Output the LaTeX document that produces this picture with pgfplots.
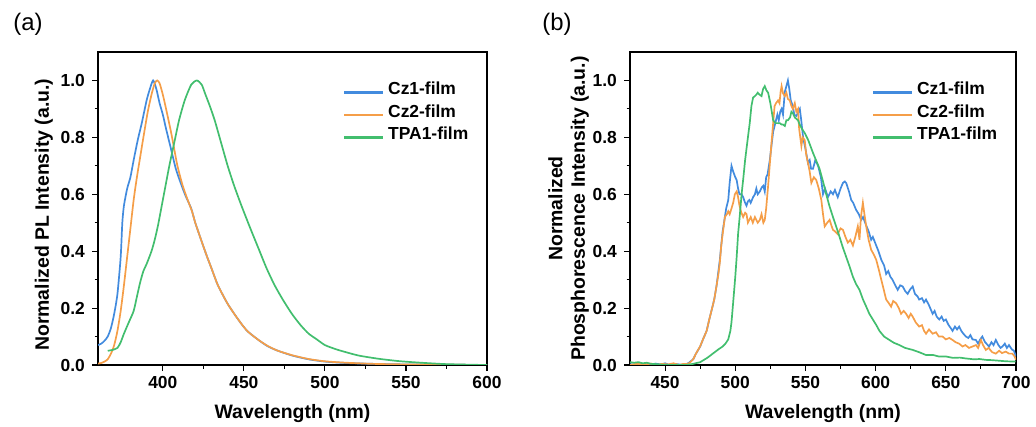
\documentclass[border=0pt]{standalone}
\usepackage{pgfplots}
\pgfplotsset{compat=1.18}
\usepackage{fontspec}
\setmainfont{Liberation Sans}

\definecolor{cblue}{RGB}{66,139,222}
\definecolor{corange}{RGB}{245,158,72}
\definecolor{cgreen}{RGB}{66,190,110}

\pgfplotsset{
  spec/.style={
    scale only axis,
    anchor=south west,
    height=313bp,
    ymin=0, ymax=1.1,
    ytick={0,0.2,...,1.0},
    minor x tick num=1,
    minor y tick num=1,
    xtick pos=bottom, ytick pos=left,
    tick align=outside,
    major tick length=6bp,
    minor tick length=3.5bp,
    every tick/.style={black, line width=1.1bp},
    axis line style={line width=1.3bp, black},
    /pgf/number format/assume math mode=true,
    ticklabel style={font=\bfseries\fontsize{17.5}{18}\selectfont, inner sep=0pt},
    yticklabel style={xshift=-7bp, /pgf/number format/.cd, fixed, fixed zerofill, precision=1},
    xticklabel style={yshift=-5bp, /pgf/number format/.cd, fixed, precision=0},
    label style={font=\bfseries\fontsize{19.5}{22.5}\selectfont, inner sep=0pt},
    legend cell align=left,
    legend style={draw=none, fill=none, inner sep=0pt, outer sep=0pt,
      row sep=0pt, anchor=north west,
      font=\bfseries\fontsize{17.5}{21}\selectfont,
      nodes={inner xsep=4bp, inner ysep=0pt, text height=13bp, text depth=9.5bp}},
    legend image code/.code={\draw[##1, line width=2.1bp] (0bp,0.5bp) -- (39bp,0.5bp);},
    every axis plot/.append style={line width=1.7bp},
  }
}

\begin{document}
\begin{tikzpicture}
\useasboundingbox (0,0) rectangle (1036bp,427bp);

\node[font=\fontsize{24}{26}\selectfont, inner sep=0pt] at (28bp,403bp) {(a)};
\node[font=\fontsize{24}{26}\selectfont, inner sep=0pt] at (557bp,403bp) {(b)};

% (a) PL spectra
\begin{axis}[spec,
  at={(98bp,62bp)}, width=389bp,
  xmin=360, xmax=600,
  xtick={400,450,...,600},
  xlabel={Wavelength (nm)},
  ylabel={Normalized PL Intensity (a.u.)},
  xlabel style={at={(axis description cs:0.5,-0.1725)}, anchor=base},
  ylabel style={at={(axis description cs:-0.1157,0.48)}, anchor=south},
  legend style={at={(axis description cs:0.63,0.905)}},
]
\addplot[cblue, smooth, tension=0.4] coordinates {
(360,0.07) (362,0.075) (364,0.085) (366,0.10) (368,0.13) (370,0.18) (372,0.25)
(374,0.38) (375,0.50) (376,0.56) (378,0.62) (380,0.66) (382,0.72) (384.5,0.79)
(387,0.85) (390,0.93) (392,0.97) (394,1.00) (396,0.97) (398,0.92) (400,0.88)
(402,0.83) (405,0.76) (408,0.69) (411,0.64) (414,0.595) (417.5,0.55) (420,0.50)
(423.6,0.44) (427,0.385) (430,0.34) (434,0.28) (440,0.215) (446.5,0.16) (452,0.12)
(459,0.088) (465,0.065) (471,0.05) (480,0.033) (490,0.02) (500,0.012) (513,0.007)
(530,0.004) (550,0.002) (575,0.001) (600,0.0)};
\addplot[corange, smooth, tension=0.4] coordinates {
(360,0.005) (362,0.007) (364,0.012) (366,0.02) (368,0.04) (370,0.07) (372,0.12)
(374,0.19) (376,0.28) (378,0.38) (380,0.48) (382,0.58) (384,0.66) (386,0.73)
(388,0.80) (390.7,0.89) (393,0.95) (395,0.99) (396.5,1.0) (398,0.99) (400,0.95)
(402,0.90) (405,0.82) (407,0.76) (409,0.70) (412,0.635) (415,0.585) (418,0.54)
(420,0.50) (423.6,0.44) (427,0.385) (430,0.34) (434,0.28) (440,0.215) (446.5,0.16)
(452,0.12) (459,0.088) (465,0.066) (471,0.05) (480,0.034) (490,0.021) (500,0.013)
(513,0.008) (530,0.004) (550,0.002) (575,0.001) (600,0.0)};
\addplot[cgreen, smooth, tension=0.4] coordinates {
(366,0.05) (369,0.053) (372,0.06) (374,0.08) (376,0.11) (379,0.15) (382,0.19)
(384,0.24) (386,0.29) (388,0.33) (390,0.355) (393,0.40) (395,0.44) (397,0.49)
(399,0.55) (401,0.61) (404,0.70) (407,0.78) (410,0.86) (413.5,0.93) (417.5,0.985)
(421,1.0) (424,0.985) (426,0.955) (429,0.91) (432,0.86) (436,0.78) (440,0.70)
(444,0.63) (448.5,0.56) (454,0.48) (459,0.41) (464,0.34) (469,0.28) (474,0.23)
(479.6,0.18) (485,0.14) (490,0.11) (495,0.09) (500,0.07) (507,0.055) (513,0.045)
(521,0.033) (533,0.022) (545,0.014) (554,0.01) (565,0.006) (575,0.003) (590,0.001)
(600,0.0)};
\legend{Cz1-film,Cz2-film,TPA1-film}
\end{axis}

% (b) phosphorescence spectra
\begin{axis}[spec,
  at={(630bp,62bp)}, width=386bp,
  xmin=425, xmax=700,
  xtick={450,500,...,700},
  xlabel={Wavelength (nm)},
  ylabel={Normalized\\Phosphorescence Intensity (a.u.)},
  xlabel style={at={(axis description cs:0.5,-0.1725)}, anchor=base},
  ylabel style={at={(axis description cs:-0.106,0.5)}, anchor=south, align=center},
  legend style={at={(axis description cs:0.627,0.905)}},
]
\addplot[cblue] coordinates {
(425,0.003) (430,0.0) (435,0.004) (440,0.0) (443,0.005) (447,0.002) (450,0.006)
(453,0.0) (457,0.004) (460,0.002) (463,0.0) (465,0.003) (467,0.008) (470,0.02)
(472,0.04) (475,0.065) (477,0.09) (479.6,0.12) (481,0.15) (483,0.19) (485,0.23)
(486.7,0.28) (488,0.33) (489,0.37) (490,0.42) (491,0.47) (492.6,0.52) (493.5,0.55)
(495,0.58) (496,0.64) (497.3,0.70) (498.5,0.68) (500,0.66) (501,0.65) (502,0.62)
(503,0.60) (504.5,0.60) (505.6,0.59) (507,0.57) (508,0.56) (509,0.575) (510,0.58)
(511,0.57) (512.7,0.59) (514,0.60) (515,0.62) (516,0.60) (517.5,0.61) (519,0.625)
(520,0.63) (521,0.61) (522,0.66) (523,0.67) (524.6,0.72) (526,0.78) (527,0.82)
(528,0.84) (529,0.86) (530,0.88) (531,0.86) (532,0.89) (533,0.90) (534,0.88)
(535.3,0.96) (536.4,0.98) (537.5,1.0) (538.5,0.97) (539.5,0.93) (541,0.91)
(542,0.88) (543.5,0.875) (545,0.89) (546,0.90) (547,0.86) (548.3,0.80) (550,0.76)
(551.8,0.71) (553,0.72) (554,0.69) (555.4,0.69) (557,0.72) (559,0.70) (561,0.66)
(562.5,0.60) (564,0.62) (566,0.59) (568,0.61) (569.6,0.60) (571,0.615) (573,0.59)
(575,0.62) (576.7,0.64) (578,0.645) (579,0.64) (581,0.61) (582.6,0.58) (584,0.57)
(586,0.546) (588,0.53) (589.7,0.51) (591,0.52) (593.3,0.49) (595,0.47) (596.8,0.44)
(598,0.45) (600.4,0.42) (602,0.40) (604,0.37) (606,0.35) (607.5,0.32) (609,0.33)
(610.5,0.31) (612,0.30) (614,0.28) (615.7,0.264) (617.5,0.28) (619.3,0.276)
(621,0.26) (622.8,0.25) (624.5,0.265) (626.4,0.276) (628,0.25) (630,0.24)
(631,0.23) (633,0.235) (634.5,0.22) (635.9,0.23) (638,0.21) (640.6,0.18) (642,0.19)
(643.5,0.17) (645.3,0.16) (647,0.17) (648.5,0.155) (650,0.16) (652,0.14)
(653.5,0.13) (654.8,0.12) (656.5,0.135) (658,0.125) (659.5,0.135) (661,0.12)
(662.5,0.11) (664.3,0.10) (666,0.095) (667.5,0.105) (669,0.09) (671.4,0.088)
(673,0.075) (674.5,0.09) (676,0.10) (678,0.08) (680.8,0.065) (682.5,0.08) (684,0.07)
(685.6,0.088) (687.5,0.07) (689,0.06) (690.3,0.065) (692,0.075) (693.5,0.06)
(695,0.07) (697,0.055) (698.5,0.05) (700,0.03)};
\addplot[corange] coordinates {
(425,0.0) (430,0.004) (435,0.001) (440,0.005) (444,0.0) (448,0.004) (452,0.002)
(456,0.006) (460,0.0) (463,0.004) (466,0.003) (468,0.01) (470,0.02) (472,0.04)
(474.9,0.065) (477,0.09) (479.6,0.12) (481,0.15) (483,0.19) (485,0.23) (486.7,0.28)
(488,0.32) (489,0.36) (490,0.42) (491,0.46) (492.6,0.52) (494,0.53) (495,0.54)
(496,0.53) (497.3,0.55) (498.5,0.57) (499.7,0.60) (501,0.61) (502,0.59) (503,0.56)
(504,0.54) (505.6,0.52) (507,0.535) (508,0.53) (509,0.50) (510,0.51) (511,0.52)
(512.5,0.50) (514,0.52) (515,0.51) (516,0.50) (517.5,0.51) (518.7,0.53) (520,0.50)
(521,0.51) (522,0.55) (523.4,0.63) (524.5,0.70) (525.8,0.78) (527,0.85) (528,0.91)
(529,0.92) (530.5,0.93) (531.5,0.92) (532.3,0.96) (533,0.98) (534,0.955)
(535.3,0.945) (536.4,0.957) (537.5,0.935) (538.8,0.93) (540,0.91) (541,0.90)
(542.4,0.92) (543.5,0.89) (544.7,0.90) (545.5,0.83) (547.1,0.77) (548,0.80)
(549.5,0.79) (550.5,0.74) (551.8,0.71) (553,0.68) (554.2,0.64) (556,0.66)
(557.7,0.65) (559.5,0.62) (561.3,0.58) (562.5,0.53) (563.7,0.487) (565.5,0.50)
(567.2,0.51) (568.5,0.49) (569.6,0.475) (571,0.47) (573,0.46) (575,0.48)
(576.7,0.475) (578.5,0.45) (580.2,0.43) (582,0.44) (583.8,0.42) (585.5,0.45)
(587.3,0.487) (588.5,0.44) (589.5,0.52) (590.9,0.57) (592,0.53) (593.3,0.487)
(595,0.44) (596.8,0.405) (598.5,0.39) (600.4,0.37) (602,0.34) (604,0.30) (606,0.26)
(607.5,0.23) (609,0.22) (611,0.205) (612.5,0.225) (614.6,0.217) (616.5,0.20)
(618.1,0.18) (620,0.19) (621.7,0.18) (623.5,0.165) (625,0.18) (626.4,0.17)
(628.5,0.15) (631,0.135) (633,0.14) (634.5,0.12) (635.9,0.11) (638,0.125)
(640.6,0.11) (643,0.115) (645,0.10) (647.7,0.10) (650,0.09) (652.5,0.095)
(654.8,0.088) (657,0.08) (659.5,0.075) (661.9,0.065) (664,0.07) (666.5,0.06)
(669,0.065) (671.5,0.07) (673,0.06) (675,0.088) (676.5,0.07) (678.5,0.053)
(680.5,0.06) (683,0.045) (685.6,0.04) (688,0.05) (690,0.042) (692.7,0.047)
(695,0.04) (697.4,0.04) (699,0.03) (700,0.018)};
\addplot[cgreen] coordinates {
(425,0.01) (428,0.008) (431,0.01) (434,0.006) (437,0.008) (440,0.004) (444,0.003)
(448,0.001) (452,0.0) (460,0.0) (465,0.0) (470,0.004) (475,0.01) (480,0.025)
(484,0.04) (488,0.055) (491,0.065) (493,0.075) (495,0.09) (496.5,0.12) (497.3,0.15)
(498.5,0.22) (500,0.31) (501,0.38) (502,0.46) (503.3,0.53) (504.5,0.60)
(505.8,0.66) (507,0.72) (508,0.76) (509,0.80) (510.3,0.85) (511.5,0.91)
(512.7,0.94) (514,0.945) (515,0.95) (516,0.957) (517.3,0.95) (518.7,0.945)
(519.8,0.97) (521,0.98) (522.2,0.965) (523.4,0.957) (525,0.92) (527,0.86)
(528.7,0.85) (530.5,0.85) (531.7,0.85) (533,0.845) (534,0.845) (535.3,0.84)
(536.4,0.86) (537.5,0.86) (539,0.87) (540,0.89) (541,0.885) (542.4,0.87)
(544.7,0.86) (545.9,0.845) (547.5,0.83) (549.5,0.815) (552,0.79) (555.4,0.745)
(557.5,0.72) (560,0.69) (562.5,0.645) (564.8,0.60) (567,0.56) (569.6,0.52)
(572,0.485) (574.3,0.45) (576.5,0.415) (579,0.38) (581.5,0.345) (583.8,0.31)
(586,0.285) (588.5,0.264) (591,0.23) (593.3,0.205) (595.5,0.18) (598,0.16)
(600.5,0.14) (602.7,0.12) (606,0.10) (609.8,0.088) (613,0.078) (617,0.07) (621,0.06)
(626.4,0.053) (631,0.045) (635.9,0.035) (641,0.035) (645,0.03) (650,0.03) (655,0.025)
(660,0.026) (664.3,0.023) (670,0.02) (674,0.021) (678.5,0.018) (683,0.017)
(688,0.015) (693,0.013) (699.8,0.012)};
\legend{Cz1-film,Cz2-film,TPA1-film}
\end{axis}
\end{tikzpicture}
\end{document}
